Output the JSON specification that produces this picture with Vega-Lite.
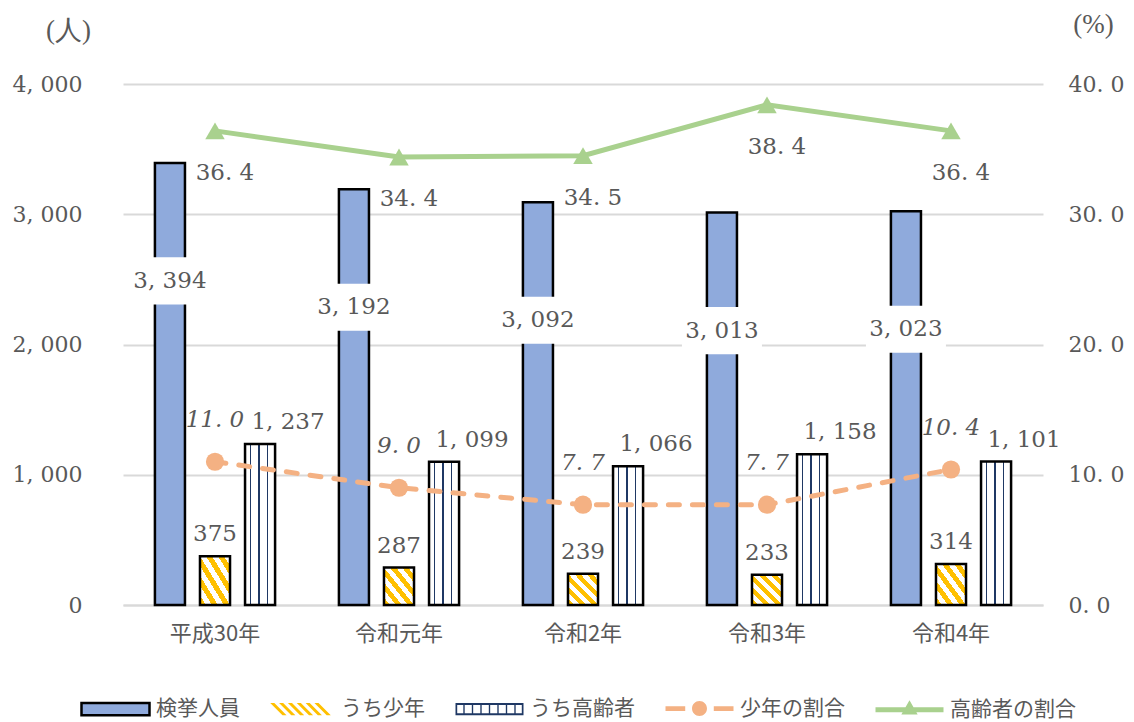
{
  "$schema": "https://vega.github.io/schema/vega-lite/v6.json",
  "width": 920,
  "height": 521,
  "autosize": {"type": "none"},
  "padding": {"left": 123, "top": 84, "right": 91, "bottom": 117},
  "background": "#ffffff",
  "config": {
    "view": {"stroke": null},
    "text": {"font": "DejaVu Serif", "fontSize": 23, "fill": "#595959"}
  },
  "datasets": {
    "bars": [
      {"year": "平成30年", "series": "検挙人員", "count": 3394},
      {"year": "平成30年", "series": "うち少年", "count": 375},
      {"year": "平成30年", "series": "うち高齢者", "count": 1237},
      {"year": "令和元年", "series": "検挙人員", "count": 3192},
      {"year": "令和元年", "series": "うち少年", "count": 287},
      {"year": "令和元年", "series": "うち高齢者", "count": 1099},
      {"year": "令和2年", "series": "検挙人員", "count": 3092},
      {"year": "令和2年", "series": "うち少年", "count": 239},
      {"year": "令和2年", "series": "うち高齢者", "count": 1066},
      {"year": "令和3年", "series": "検挙人員", "count": 3013},
      {"year": "令和3年", "series": "うち少年", "count": 233},
      {"year": "令和3年", "series": "うち高齢者", "count": 1158},
      {"year": "令和4年", "series": "検挙人員", "count": 3023},
      {"year": "令和4年", "series": "うち少年", "count": 314},
      {"year": "令和4年", "series": "うち高齢者", "count": 1101}
    ],
    "rates": [
      {"year": "平成30年", "series": "少年の割合", "rate": 11.0},
      {"year": "令和元年", "series": "少年の割合", "rate": 9.0},
      {"year": "令和2年", "series": "少年の割合", "rate": 7.7},
      {"year": "令和3年", "series": "少年の割合", "rate": 7.7},
      {"year": "令和4年", "series": "少年の割合", "rate": 10.4},
      {"year": "平成30年", "series": "高齢者の割合", "rate": 36.4},
      {"year": "令和元年", "series": "高齢者の割合", "rate": 34.4},
      {"year": "令和2年", "series": "高齢者の割合", "rate": 34.5},
      {"year": "令和3年", "series": "高齢者の割合", "rate": 38.4},
      {"year": "令和4年", "series": "高齢者の割合", "rate": 36.4}
    ]
  },
  "layer": [
    {
      "data": {"name": "bars"},
      "transform": [
        {"calculate": "replace(format(datum.count, ','), ',', ', ')", "as": "label"}
      ],
      "encoding": {
        "x": {
          "field": "year",
          "type": "nominal",
          "sort": ["平成30年", "令和元年", "令和2年", "令和3年", "令和4年"],
          "scale": {"domain": ["平成30年", "令和元年", "令和2年", "令和3年", "令和4年"], "paddingInner": 0.2, "paddingOuter": 0.1},
          "axis": {
            "title": null,
            "labelAngle": 0,
            "labelFont": "Noto Sans CJK JP",
            "labelFontSize": 22,
            "labelColor": "#595959",
            "labelPadding": 18,
            "ticks": false,
            "domainColor": "#D9D9D9",
            "domainWidth": 2
          }
        },
        "xOffset": {
          "field": "series",
          "type": "nominal",
          "scale": {"domain": ["検挙人員", "うち少年", "うち高齢者"], "paddingInner": 0.3333, "paddingOuter": 0.3}
        },
        "y": {
          "field": "count",
          "type": "quantitative",
          "scale": {"domain": [0, 4000]},
          "axis": {
            "title": "(人)",
            "titleAngle": 0,
            "titleX": -55,
            "titleY": -54,
            "titleAlign": "center",
            "titleBaseline": "middle",
            "titleFont": "Liberation Serif",
            "titleFontSize": 27,
            "titleFontWeight": "normal",
            "titleColor": "#595959",
            "values": [0, 1000, 2000, 3000, 4000],
            "labelExpr": "replace(format(datum.value, ','), ',', ', ')",
            "labelFont": "DejaVu Serif",
            "labelFontSize": 22,
            "labelColor": "#595959",
            "labelPadding": 41,
            "ticks": false,
            "domain": false,
            "grid": true,
            "gridColor": "#D9D9D9",
            "gridWidth": 2
          }
        }
      },
      "layer": [
        {
          "transform": [{"filter": "datum.series === '検挙人員'"}],
          "mark": {"type": "bar", "fill": "#8FAADC", "stroke": "#000000", "strokeWidth": 2.5}
        },
        {
          "transform": [{"filter": "datum.series === 'うち少年'"}],
          "mark": {
            "type": "bar",
            "stroke": "#000000",
            "strokeWidth": 2.5,
            "fill": {
              "gradient": "linear", "x1": 0, "y1": 1, "x2": 1, "y2": 0,
              "stops": [
                {"offset": 0, "color": "#FFC000"}, {"offset": 0.1, "color": "#FFC000"},
                {"offset": 0.1, "color": "#ffffff"}, {"offset": 0.2, "color": "#ffffff"},
                {"offset": 0.2, "color": "#FFC000"}, {"offset": 0.3, "color": "#FFC000"},
                {"offset": 0.3, "color": "#ffffff"}, {"offset": 0.4, "color": "#ffffff"},
                {"offset": 0.4, "color": "#FFC000"}, {"offset": 0.5, "color": "#FFC000"},
                {"offset": 0.5, "color": "#ffffff"}, {"offset": 0.6, "color": "#ffffff"},
                {"offset": 0.6, "color": "#FFC000"}, {"offset": 0.7, "color": "#FFC000"},
                {"offset": 0.7, "color": "#ffffff"}, {"offset": 0.8, "color": "#ffffff"},
                {"offset": 0.8, "color": "#FFC000"}, {"offset": 0.9, "color": "#FFC000"},
                {"offset": 0.9, "color": "#ffffff"}, {"offset": 1, "color": "#ffffff"}
              ]
            }
          }
        },
        {
          "transform": [{"filter": "datum.series === 'うち高齢者'"}],
          "mark": {
            "type": "bar",
            "stroke": "#000000",
            "strokeWidth": 2.5,
            "fill": {
              "gradient": "linear", "x1": 0, "y1": 0, "x2": 1, "y2": 0,
              "stops": [
                {"offset": 0, "color": "#ffffff"}, {"offset": 0.16, "color": "#ffffff"},
                {"offset": 0.16, "color": "#1F3864"}, {"offset": 0.21, "color": "#1F3864"},
                {"offset": 0.21, "color": "#ffffff"}, {"offset": 0.44, "color": "#ffffff"},
                {"offset": 0.44, "color": "#1F3864"}, {"offset": 0.49, "color": "#1F3864"},
                {"offset": 0.49, "color": "#ffffff"}, {"offset": 0.72, "color": "#ffffff"},
                {"offset": 0.72, "color": "#1F3864"}, {"offset": 0.77, "color": "#1F3864"},
                {"offset": 0.77, "color": "#ffffff"}, {"offset": 1, "color": "#ffffff"}
              ]
            }
          }
        },
        {
          "transform": [{"filter": "datum.series === '検挙人員'"}],
          "mark": {"type": "point", "shape": "M-1,-0.59H1V0.59H-1Z", "size": 6400, "filled": true, "fill": "#ffffff", "opacity": 1, "strokeWidth": 0, "yOffset": 118}
        },
        {
          "transform": [{"filter": "datum.series === '検挙人員'"}],
          "mark": {"type": "text", "baseline": "middle", "dy": 118},
          "encoding": {"text": {"field": "label"}}
        },
        {
          "transform": [{"filter": "datum.series === 'うち少年'"}],
          "mark": {"type": "text", "baseline": "middle", "dy": -22},
          "encoding": {"text": {"field": "label"}}
        },
        {
          "transform": [{"filter": "datum.series === 'うち高齢者'"}],
          "mark": {"type": "text", "baseline": "middle", "dy": -22, "dx": 28},
          "encoding": {"text": {"field": "label"}}
        }
      ]
    },
    {
      "data": {"name": "rates"},
      "transform": [
        {"calculate": "replace(format(datum.rate, '.1f'), '.', '. ')", "as": "label"}
      ],
      "encoding": {
        "x": {"field": "year", "type": "nominal", "sort": ["平成30年", "令和元年", "令和2年", "令和3年", "令和4年"]},
        "y": {
          "field": "rate",
          "type": "quantitative",
          "scale": {"domain": [0, 40]},
          "axis": {
            "orient": "right",
            "title": "(%)",
            "titleAngle": 0,
            "titleX": 50,
            "titleY": -60,
            "titleAlign": "center",
            "titleBaseline": "middle",
            "titleFont": "Liberation Serif",
            "titleFontSize": 27,
            "titleFontWeight": "normal",
            "titleColor": "#595959",
            "values": [0, 10, 20, 30, 40],
            "labelExpr": "replace(format(datum.value, '.1f'), '.', '. ')",
            "labelFont": "DejaVu Serif",
            "labelFontSize": 22,
            "labelColor": "#595959",
            "labelPadding": 25,
            "ticks": false,
            "domain": false,
            "grid": false
          }
        }
      },
      "layer": [
        {
          "transform": [{"filter": "datum.series === '少年の割合'"}],
          "mark": {"type": "line", "stroke": "#F4B183", "strokeWidth": 5, "strokeDash": [11, 13], "strokeCap": "round"}
        },
        {
          "transform": [{"filter": "datum.series === '高齢者の割合'"}],
          "mark": {"type": "line", "stroke": "#A9D18E", "strokeWidth": 5}
        },
        {
          "transform": [{"filter": "datum.series === '少年の割合'"}],
          "mark": {"type": "point", "shape": "circle", "filled": true, "fill": "#F4B183", "opacity": 1, "size": 330}
        },
        {
          "transform": [{"filter": "datum.series === '高齢者の割合'"}],
          "mark": {"type": "point", "shape": "triangle-up", "filled": true, "fill": "#A9D18E", "opacity": 1, "size": 380}
        },
        {
          "mark": {"type": "point", "filled": true, "opacity": 0},
          "encoding": {
            "color": {
              "field": "series",
              "type": "nominal",
              "scale": {
                "domain": ["検挙人員", "うち少年", "うち高齢者", "少年の割合", "高齢者の割合"],
                "range": ["#8FAADC", "#FFC000", "#1F3864", "#F4B183", "#A9D18E"]
              },
              "legend": {
                "orient": "none",
                "legendX": -43,
                "legendY": 589,
                "direction": "horizontal",
                "title": null,
                "symbolSize": 4624,
                "symbolOpacity": 1,
                "symbolStrokeWidth": 2.5,
                "labelFont": "Noto Sans CJK JP",
                "labelFontSize": 21,
                "labelColor": "#595959",
                "labelOffset": 5,
                "columnPadding": 25
              }
            },
            "stroke": {
              "field": "series",
              "type": "nominal",
              "scale": {
                "domain": ["検挙人員", "うち少年", "うち高齢者", "少年の割合", "高齢者の割合"],
                "range": ["#000000", "transparent", "transparent", "transparent", "transparent"]
              },
              "legend": {
                "orient": "none",
                "legendX": -43,
                "legendY": 589,
                "direction": "horizontal",
                "title": null,
                "symbolSize": 4624,
                "symbolOpacity": 1,
                "symbolStrokeWidth": 2.5,
                "labelFont": "Noto Sans CJK JP",
                "labelFontSize": 21,
                "labelColor": "#595959",
                "labelOffset": 5,
                "columnPadding": 25
              }
            },
            "shape": {
              "field": "series",
              "type": "nominal",
              "scale": {
                "domain": ["検挙人員", "うち少年", "うち高齢者", "少年の割合", "高齢者の割合"],
                "range": [
                  "M-1,-0.18H1V0.18H-1Z",
                  "M-0.89,-0.18H-0.77L-0.41,0.18H-0.53Z M-0.63,-0.18H-0.51L-0.15,0.18H-0.27Z M-0.37,-0.18H-0.25L0.11,0.18H-0.01Z M-0.11,-0.18H0.01L0.37,0.18H0.25Z M0.15,-0.18H0.27L0.63,0.18H0.51Z M0.41,-0.18H0.53L0.89,0.18H0.77Z",
                  "M-1,-0.18H1V0.18H-1Z M-0.95,-0.12V0.12H0.95V-0.12Z M-0.77,-0.12H-0.73V0.12H-0.77Z M-0.52,-0.12H-0.48V0.12H-0.52Z M-0.27,-0.12H-0.23V0.12H-0.27Z M-0.02,-0.12H0.02V0.12H-0.02Z M0.23,-0.12H0.27V0.12H0.23Z M0.48,-0.12H0.52V0.12H0.48Z M0.73,-0.12H0.77V0.12H0.73Z",
                  "M-1,-0.07H-0.42V0.07H-1Z M0.42,-0.07H1V0.07H0.42Z M0.22,0A0.22,0.22,0,1,1,-0.22,0A0.22,0.22,0,1,1,0.22,0Z",
                  "M-1,-0.07H1V0.07H-1Z M0,-0.28L0.24,0.14H-0.24Z"
                ]
              },
              "legend": {
                "orient": "none",
                "legendX": -43,
                "legendY": 589,
                "direction": "horizontal",
                "title": null,
                "symbolSize": 4624,
                "symbolOpacity": 1,
                "symbolStrokeWidth": 2.5,
                "labelFont": "Noto Sans CJK JP",
                "labelFontSize": 21,
                "labelColor": "#595959",
                "labelOffset": 5,
                "columnPadding": 25
              }
            }
          }
        },
        {
          "transform": [{"filter": "datum.series === '少年の割合'"}],
          "mark": {"type": "text", "baseline": "middle", "dy": -42, "fontStyle": "italic"},
          "encoding": {"text": {"field": "label"}}
        },
        {
          "transform": [{"filter": "datum.series === '高齢者の割合'"}],
          "mark": {"type": "text", "baseline": "middle", "dy": 42, "dx": 10},
          "encoding": {"text": {"field": "label"}}
        }
      ]
    }
  ],
  "resolve": {"scale": {"y": "independent"}}
}
